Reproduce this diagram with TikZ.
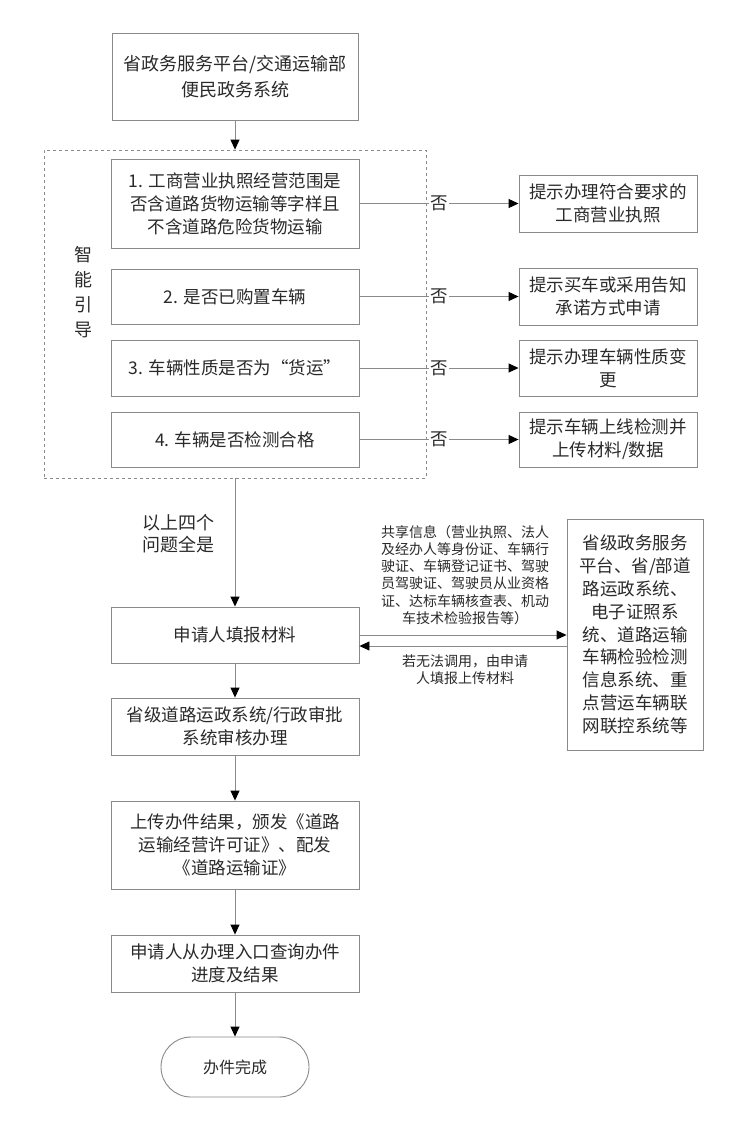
\documentclass[tikz,border=0pt]{standalone}
\usepackage{fontspec}
\setmainfont{Noto Sans CJK SC}
\usetikzlibrary{arrows.meta}
\definecolor{linegray}{HTML}{8A8A8A}
\definecolor{textgray}{HTML}{2A2A2A}
\tikzset{
  box/.style={draw=linegray, line width=0.9pt, minimum width=248pt, align=center, inner sep=2pt, text=textgray, font=\fontsize{17.5}{23}\selectfont},
  rbox/.style={box, minimum width=178pt},
  arr/.style={draw=linegray, line width=0.9pt, -{Triangle[length=10pt,width=9pt,black]}},
  lab/.style={fill=white, inner sep=1pt, text=textgray, font=\fontsize{17.5}{20}\selectfont},
  note/.style={align=center, text=textgray, inner sep=0pt},
}
\begin{document}
\begin{tikzpicture}[x=1pt,y=-1pt]
\useasboundingbox[fill=white] (0,0) rectangle (739,1138);
% dashed guide region
\node[draw=linegray, dashed, line width=0.8pt, minimum width=382pt, minimum height=328pt, inner sep=0pt] (guide) at (235,314) {};
\node[note, font=\fontsize{18}{25}\selectfont] (guidelab) at (83,292.5) {智\\能\\引\\导};

\node[box, minimum width=246pt, minimum height=87pt, font=\fontsize{18}{26.5}\selectfont] (top) at (235,76.5) {省政务服务平台/交通运输部\\便民政务系统};

\node[box, minimum height=89pt] (q1) at (235,203.5) {1. 工商营业执照经营范围是\\否含道路货物运输等字样且\\不含道路危险货物运输};
\node[box, minimum height=55pt] (q2) at (235,296.5) {2. 是否已购置车辆};
\node[box, minimum height=56pt] (q3) at (235,368) {3. 车辆性质是否为“货运”};
\node[box, minimum height=55pt] (q4) at (235,439.5) {4. 车辆是否检测合格};

\node[rbox, minimum height=57pt] (r1) at (608,203.5) {提示办理符合要求的\\工商营业执照};
\node[rbox, minimum height=57pt] (r2) at (608,296.5) {提示买车或采用告知\\承诺方式申请};
\node[rbox, minimum height=56pt] (r3) at (608,368) {提示办理车辆性质变\\更};
\node[rbox, minimum height=55pt] (r4) at (608,439.5) {提示车辆上线检测并\\上传材料/数据};

\node[box, minimum height=56pt] (apply) at (235,635) {申请人填报材料};
\node[box, minimum width=136pt, minimum height=231pt, font=\fontsize{17.5}{22.9}\selectfont] (big) at (635,634.5) {省级政务服务\\平台、省/部道\\路运政系统、\\电子证照系\\统、道路运输\\车辆检验检测\\信息系统、重\\点营运车辆联\\网联控系统等};

\node[box, minimum height=57pt] (review) at (235,726.5) {省级道路运政系统/行政审批\\系统审核办理};
\node[box, minimum height=88pt] (upload) at (235,845) {上传办件结果，颁发《道路\\运输经营许可证》、配发\\《道路运输证》};
\node[box, minimum height=57pt] (query) at (235,963.5) {申请人从办理入口查询办件\\进度及结果};
\node[box, minimum width=148pt, minimum height=60pt, rounded corners=30pt, font=\fontsize{16}{20}\selectfont] (done) at (235,1067) {办件完成};

% notes
\node[note, font=\fontsize{18}{22}\selectfont] (allyes) at (178,534) {以上四个\\问题全是};
\node[note, font=\fontsize{14}{17.3}\selectfont] (share) at (465,575) {共享信息（营业执照、法人\\及经办人等身份证、车辆行\\驶证、车辆登记证书、驾驶\\员驾驶证、驾驶员从业资格\\证、达标车辆核查表、机动\\车技术检验报告等）};
\node[note, font=\fontsize{14}{17.3}\selectfont] (fallback) at (465,669.5) {若无法调用，由申请\\人填报上传材料};

% connectors
\draw[arr] (top) -- (guide.north);
\foreach \i in {1,2,3,4}{
  \draw[arr] (q\i.east) -- node[lab]{否} (r\i.west);
}
\draw[arr] (guide.south) -- (apply.north);
\draw[arr] (apply.east) -- (apply.east -| big.west);
\draw[arr] ([yshift=-11pt]apply.east -| big.west) -- ([yshift=-11pt]apply.east);
\draw[arr] (apply) -- (review);
\draw[arr] (review) -- (upload);
\draw[arr] (upload) -- (query);
\draw[arr] (query) -- (done);
\end{tikzpicture}
\end{document}
